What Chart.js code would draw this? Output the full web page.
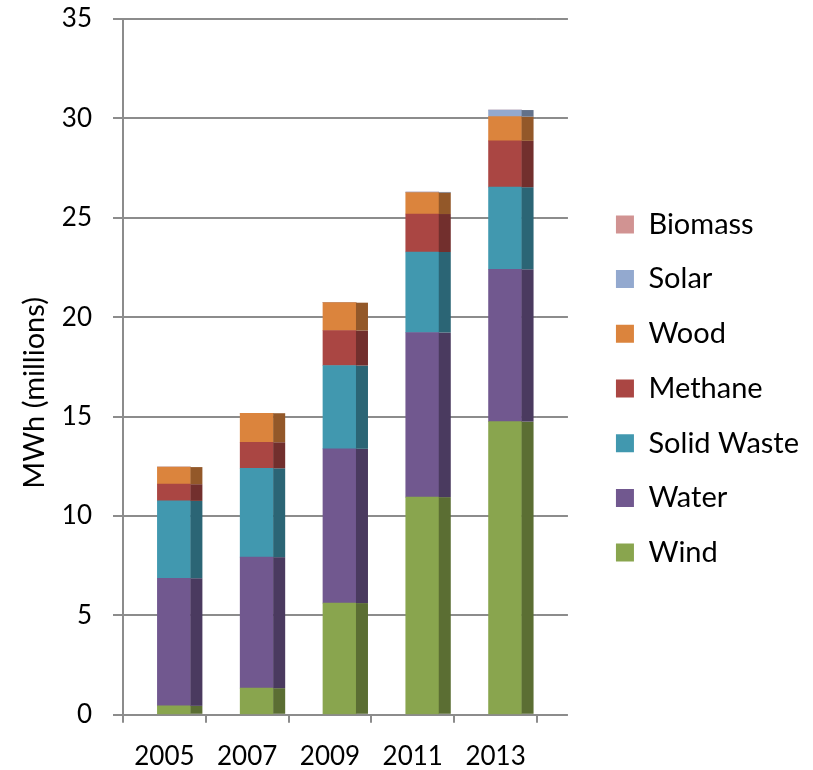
<!DOCTYPE html>
<html>
<head>
<meta charset="utf-8">
<script src="https://cdn.jsdelivr.net/npm/chart.js@4.4.0/dist/chart.umd.min.js"></script>
<style>
  html, body { margin: 0; padding: 0; background: #fff; }
  #wrap { width: 813px; height: 770px; }
</style>
</head>
<body>
<div id="wrap"><canvas id="chart"></canvas></div>
<script>
// values, MWh (millions)
const years = ['2005', '2007', '2009', '2011', '2013'];
const wind       = [0.45, 1.34, 5.62, 10.95, 14.75];
const water      = [6.42, 6.59, 7.76, 8.28, 7.66];
const solidWaste = [3.89, 4.47, 4.19, 4.05, 4.13];
const methane    = [0.84, 1.31, 1.76, 1.91, 2.33];
const wood       = [0.86, 1.46, 1.40, 1.08, 1.22];
const solar      = [0, 0, 0, 0.03, 0.33];
const biomass    = [0, 0, 0, 0, 0];

const GRID = '#8c8c8c';
const TICK_FONT = { family: 'Lato', size: 26 };
const TEXT_FONT = { family: 'Lato', size: 29 };
const SIDE = 12;    // width of the dark side face
const SHIFT = 9.5;  // bars sit a little right of the category centre
const DEPTH = 31;   // back wall runs past the last category

// name, values, front colour, side colour
const series = [
  ['Wind', wind, '#89A54E', '#5B6E33'],
  ['Water', water, '#71588F', '#4A3A5F'],
  ['Solid Waste', solidWaste, '#4198AF', '#2B6575'],
  ['Methane', methane, '#AA4643', '#722F2D'],
  ['Wood', wood, '#DB843D', '#935829'],
  ['Solar', solar, '#93A9CF', '#62718A'],
  ['Biomass', biomass, '#D19392', '#8C6262'],
];

const bars3d = {
  id: 'bars3d',
  beforeDatasetsDraw(chart) {
    const { ctx, chartArea, scales: { y } } = chart;
    ctx.save();
    ctx.strokeStyle = GRID;
    ctx.lineWidth = 2;
    y.ticks.forEach(t => {
      const py = Math.round(y.getPixelForValue(t.value));
      ctx.beginPath();
      ctx.moveTo(chartArea.right, py);
      ctx.lineTo(chartArea.right + DEPTH, py);
      ctx.stroke();
    });
    ctx.restore();
    ctx.save();
    ctx.translate(SHIFT, 0);
  },
  afterDatasetsDraw(chart) {
    const { ctx } = chart;
    chart.data.datasets.forEach((ds, i) => {
      chart.getDatasetMeta(i).data.forEach(bar => {
        const { x, y, base, width } = bar.getProps(['x', 'y', 'base', 'width'], true);
        if (Math.abs(base - y) < 0.01) return;
        ctx.fillStyle = ds.sideColor;
        ctx.fillRect(x + width / 2, Math.min(y, base), SIDE, Math.abs(base - y));
      });
    });
    ctx.restore();
  }
};

new Chart(document.getElementById('chart'), {
  type: 'bar',
  data: {
    labels: years,
    datasets: series.map(s => ({
      label: s[0], data: s[1], backgroundColor: s[2], sideColor: s[3],
      borderWidth: 0, barThickness: 33
    }))
  },
  options: {
    responsive: true, maintainAspectRatio: false, animation: false,
    layout: { padding: { top: -13, bottom: -20, left: 0, right: 4 } },
    scales: {
      x: {
        stacked: true,
        grid: { offset: true, drawOnChartArea: false, drawTicks: true, tickLength: 8, color: GRID, lineWidth: 2 },
        border: { color: GRID, width: 2 },
        ticks: { font: TICK_FONT, color: '#000', padding: 18, maxRotation: 0, autoSkip: false }
      },
      y: {
        stacked: true, min: 0, max: 35,
        afterFit(s) { s.width = 123; s.paddingTop = 19; s.paddingBottom = 0; },
        grid: { color: GRID, lineWidth: 2, tickLength: 10 },
        border: { color: GRID, width: 2 },
        ticks: { stepSize: 5, font: TICK_FONT, color: '#000', padding: 21 },
        title: { display: true, text: 'MWh (millions)       ', font: TEXT_FONT, color: '#000', padding: { top: 17, bottom: 0 } }
      },
      gap: {
        position: 'right', display: true,
        afterFit(s) { s.width = 53.3; },
        grid: { display: false }, border: { display: false }, ticks: { display: false }
      }
    },
    plugins: {
      legend: {
        position: 'right', reverse: true, maxWidth: 300,
        labels: { boxWidth: 18, boxHeight: 18, padding: 25.7, font: TEXT_FONT, color: '#000' }
      },
      tooltip: { enabled: false }
    }
  },
  plugins: [bars3d]
});
</script>
</body>
</html>
